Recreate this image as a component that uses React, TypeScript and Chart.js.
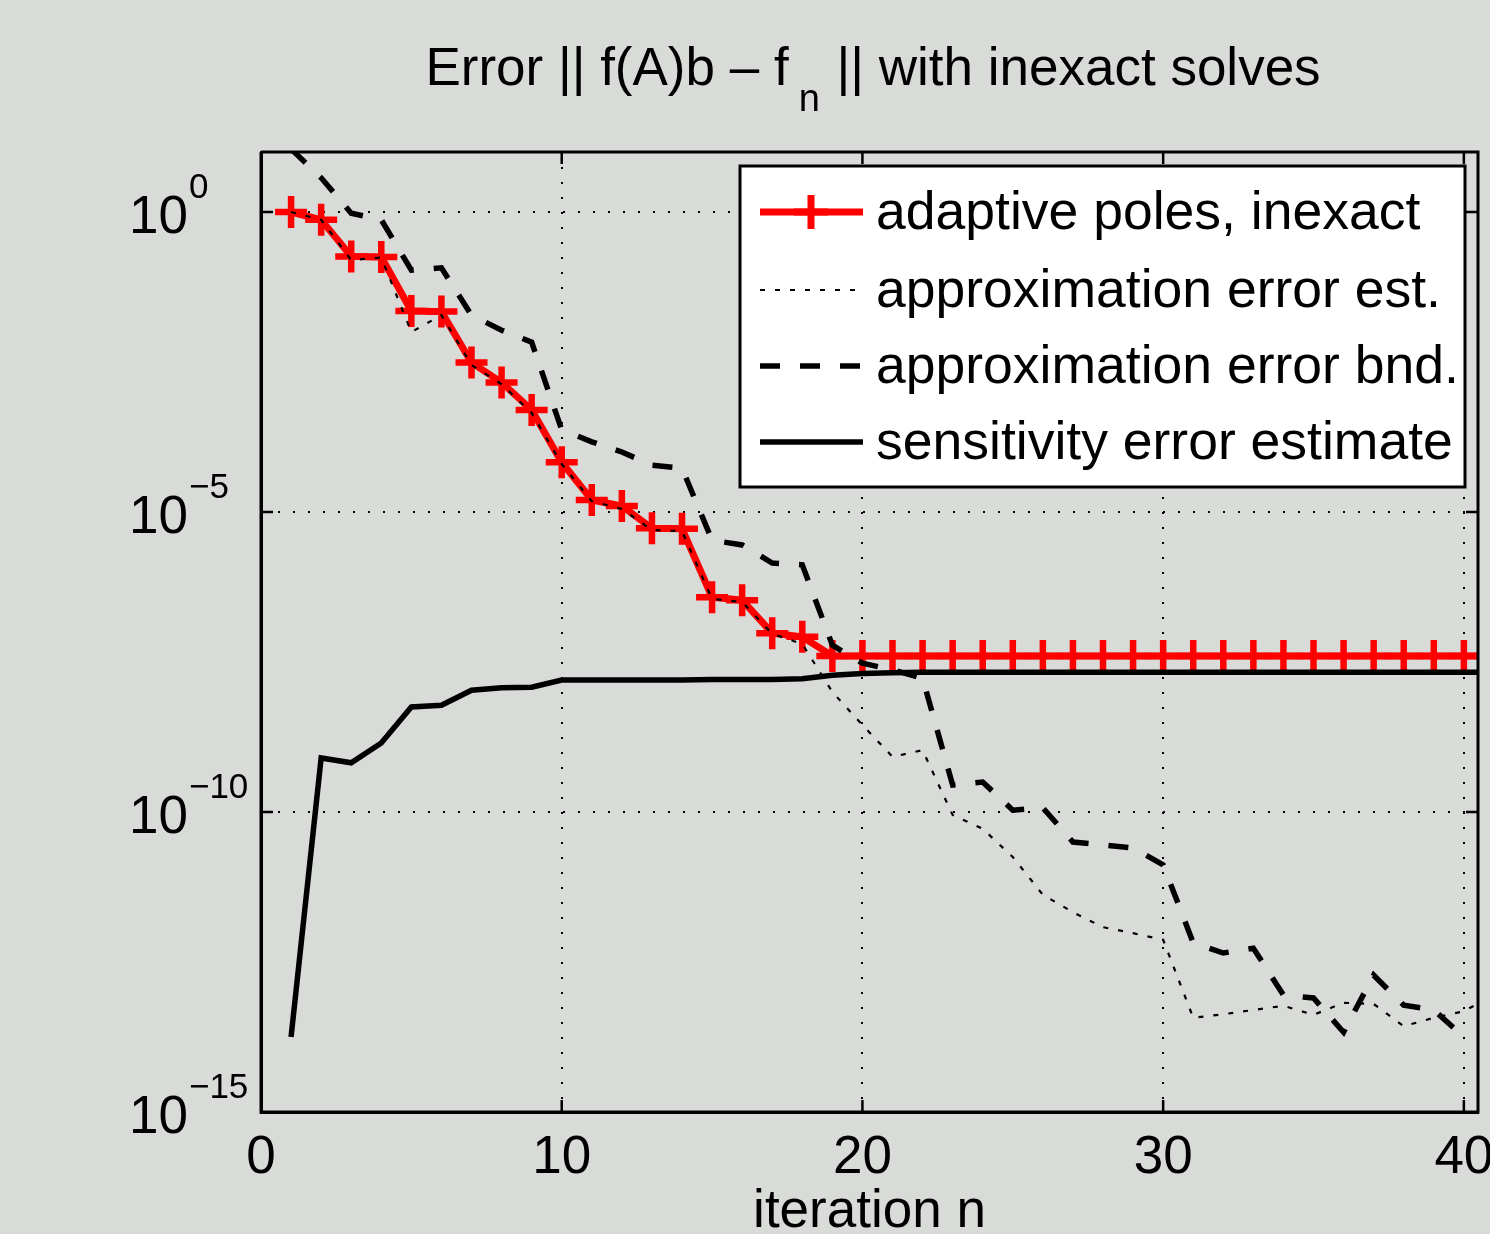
import React, { useEffect, useRef } from 'react';
import { Chart, registerables } from 'chart.js';

Chart.register(...registerables);

// ---------- data (values are log10 exponents) ----------
const iterations = [
  1, 2, 3, 4, 5, 6, 7, 8, 9, 10, 11, 12, 13, 14, 15, 16, 17, 18, 19, 20,
  21, 22, 23, 24, 25, 26, 27, 28, 29, 30, 31, 32, 33, 34, 35, 36, 37, 38, 39, 40, 41,
];

const adaptivePolesExp = [
  0, -0.13, -0.74, -0.75, -1.65, -1.66, -2.51, -2.84, -3.3, -4.17,
  -4.8, -4.9, -5.27, -5.28, -6.42, -6.47, -7.02, -7.08, -7.4, -7.4,
  -7.4, -7.4, -7.4, -7.4, -7.4, -7.4, -7.4, -7.4, -7.4, -7.4,
  -7.4, -7.4, -7.4, -7.4, -7.4, -7.4, -7.4, -7.4, -7.4, -7.4, -7.4,
];

const approxErrEstExp = [
  0, -0.13, -0.8, -0.76, -2.0, -1.72, -2.55, -2.87, -3.35, -4.2,
  -4.82, -4.95, -5.3, -5.32, -6.45, -6.5, -7.03, -7.2, -8.0, -8.55,
  -9.08, -8.97, -10.05, -10.28, -10.75, -11.38, -11.67, -11.92, -12.02, -12.13,
  -13.43, -13.37, -13.3, -13.23, -13.38, -13.18, -13.2, -13.57, -13.43, -13.32, -13.05,
];

const approxErrBndExp = [
  1.05, 0.57, -0.02, -0.13, -0.97, -0.93, -1.72, -1.97, -2.17, -3.63,
  -3.83, -4.0, -4.22, -4.27, -5.47, -5.55, -5.85, -5.88, -7.22, -7.52,
  -7.63, -7.77, -9.55, -9.5, -9.97, -9.93, -10.5, -10.55, -10.6, -10.88,
  -12.18, -12.35, -12.27, -13.05, -13.1, -13.67, -12.72, -13.22, -13.3, -13.75,
];

const sensitivityExp = [
  -13.75, -9.1, -9.18, -8.85, -8.25, -8.22, -7.97, -7.93, -7.92, -7.8,
  -7.8, -7.8, -7.8, -7.8, -7.79, -7.79, -7.79, -7.78, -7.72, -7.69,
  -7.68, -7.67, -7.67, -7.67, -7.67, -7.67, -7.67, -7.67, -7.67, -7.67,
  -7.67, -7.67, -7.67, -7.67, -7.67, -7.67, -7.67, -7.67, -7.67, -7.67, -7.67,
];

const seriesLabels = [
  'adaptive poles, inexact',
  'approximation error est.',
  'approximation error bnd.',
  'sensitivity error estimate',
];

const xTickValues = [0, 10, 20, 30, 40];
const xTickLabels = ['0', '10', '20', '30', '40'];
const yTickValues = [1e-15, 1e-10, 1e-5, 1, 10];
const yTickLabelValues = [1, 1e-5, 1e-10, 1e-15];
const yTickExponents = ['0', '\u22125', '\u221210', '\u221215'];

const titleMain = 'Error || f(A)b \u2013 f';
const titleSub = 'n';
const titleRest = ' || with inexact solves';
const xAxisTitle = 'iteration n';

// ---------- styling ----------
const BG = '#d9dbd8';
const FONT = '"Liberation Sans", Arial, Helvetica, sans-serif';
const RED = '#ff0000';
const DOT_DASH = [5, 10];
const DASH_DASH = [20, 20];

const toPoints = (exps: number[]) =>
  exps.map((e, i) => ({ x: iterations[i], y: Math.pow(10, e) }));

const decorPlugin = {
  id: 'matlabDecor',
  beforeDraw(chart: any) {
    const ctx = chart.ctx;
    ctx.save();
    ctx.fillStyle = BG;
    ctx.fillRect(0, 0, chart.width, chart.height);
    ctx.restore();
  },
  afterDatasetsDraw(chart: any) {
    const ctx = chart.ctx;
    const { left, right, top, bottom } = chart.chartArea;
    const xs = chart.scales.x;
    const ys = chart.scales.y;
    ctx.save();
    ctx.strokeStyle = '#000';
    ctx.lineWidth = 3;
    ctx.beginPath();
    ctx.moveTo(left, top);
    ctx.lineTo(right, top);
    ctx.lineTo(right, bottom);
    ctx.lineTo(left, bottom);
    ctx.lineTo(left, top);
    ctx.stroke();
    ctx.lineWidth = 2.5;
    const tl = 12;
    ctx.beginPath();
    [1, 1e-5, 1e-10].forEach((v) => {
      const y = ys.getPixelForValue(v);
      ctx.moveTo(left, y);
      ctx.lineTo(left + tl, y);
      ctx.moveTo(right, y);
      ctx.lineTo(right - tl, y);
    });
    [10, 20, 30, 40].forEach((v) => {
      const x = xs.getPixelForValue(v);
      ctx.moveTo(x, bottom);
      ctx.lineTo(x, bottom - tl);
      ctx.moveTo(x, top);
      ctx.lineTo(x, top + tl);
    });
    ctx.stroke();
    ctx.restore();
  },
  afterDraw(chart: any) {
    const ctx = chart.ctx;
    const { left, right, bottom } = chart.chartArea;
    const xs = chart.scales.x;
    const ys = chart.scales.y;
    ctx.save();
    ctx.fillStyle = '#000';
    ctx.textBaseline = 'alphabetic';

    // y tick labels 10^k
    yTickLabelValues.forEach((v, i) => {
      const y = ys.getPixelForValue(v);
      ctx.font = `53px ${FONT}`;
      ctx.textAlign = 'left';
      ctx.fillText('10', 129, y + 21);
      const w = ctx.measureText('10').width;
      ctx.font = `35px ${FONT}`;
      ctx.fillText(yTickExponents[i], 129 + w + 1, y - 14);
    });

    // x tick labels
    ctx.font = `53px ${FONT}`;
    ctx.textAlign = 'center';
    xTickValues.forEach((v, i) => {
      ctx.fillText(xTickLabels[i], xs.getPixelForValue(v), bottom + 61);
    });

    // x axis title
    ctx.fillText(xAxisTitle, (left + right) / 2, bottom + 115);

    // title with subscript
    ctx.textAlign = 'left';
    ctx.font = `53px ${FONT}`;
    const w1 = ctx.measureText(titleMain).width;
    const w3 = ctx.measureText(titleRest).width;
    ctx.font = `38px ${FONT}`;
    const w2 = ctx.measureText(titleSub).width;
    const gapA = 10;
    const gapB = 2;
    const total = w1 + gapA + w2 + gapB + w3;
    const tx = 873 - total / 2;
    ctx.font = `53px ${FONT}`;
    ctx.fillText(titleMain, tx, 85);
    ctx.font = `38px ${FONT}`;
    ctx.fillText(titleSub, tx + w1 + gapA, 111);
    ctx.font = `53px ${FONT}`;
    ctx.fillText(titleRest, tx + w1 + gapA + w2 + gapB, 85);

    // legend
    const lx = 740, ly = 166, lw = 725, lh = 321;
    ctx.fillStyle = '#fff';
    ctx.fillRect(lx, ly, lw, lh);
    ctx.strokeStyle = '#000';
    ctx.lineWidth = 3;
    ctx.strokeRect(lx, ly, lw, lh);
    const rows = [212, 290, 366, 442];
    const styles = [
      { color: RED, width: 7, dash: [] as number[], marker: true },
      { color: '#000', width: 2.2, dash: DOT_DASH, marker: false },
      { color: '#000', width: 5.5, dash: DASH_DASH, marker: false },
      { color: '#000', width: 5.5, dash: [] as number[], marker: false },
    ];
    rows.forEach((ry, i) => {
      const s = styles[i];
      ctx.save();
      ctx.strokeStyle = s.color;
      ctx.lineWidth = s.width;
      ctx.setLineDash(s.dash);
      ctx.beginPath();
      ctx.moveTo(760, ry);
      ctx.lineTo(863, ry);
      ctx.stroke();
      ctx.setLineDash([]);
      if (s.marker) {
        ctx.lineWidth = 7;
        ctx.beginPath();
        ctx.moveTo(811, ry - 17);
        ctx.lineTo(811, ry + 17);
        ctx.moveTo(794, ry);
        ctx.lineTo(828, ry);
        ctx.stroke();
      }
      ctx.restore();
      ctx.fillStyle = '#000';
      ctx.font = `53.5px ${FONT}`;
      ctx.textAlign = 'left';
      ctx.fillText(seriesLabels[i], 876, ry + 17);
    });
    ctx.restore();
  },
};

export default function App() {
  const canvasRef = useRef<HTMLCanvasElement | null>(null);

  useEffect(() => {
    const canvas = canvasRef.current;
    if (!canvas) return;
    const chart = new Chart(canvas, {
      type: 'line',
      data: {
        datasets: [
          {
            label: seriesLabels[0],
            data: toPoints(adaptivePolesExp),
            borderColor: RED,
            backgroundColor: RED,
            borderWidth: 7,
            pointStyle: 'cross',
            pointRadius: 16,
            pointBorderWidth: 6.5,
            pointBorderColor: RED,
            tension: 0,
            order: 4,
          },
          {
            label: seriesLabels[1],
            data: toPoints(approxErrEstExp),
            borderColor: '#000',
            borderWidth: 2.2,
            borderDash: DOT_DASH,
            pointRadius: 0,
            tension: 0,
            order: 3,
          },
          {
            label: seriesLabels[2],
            data: toPoints(approxErrBndExp),
            borderColor: '#000',
            borderWidth: 5.5,
            borderDash: DASH_DASH,
            pointRadius: 0,
            tension: 0,
            order: 2,
          },
          {
            label: seriesLabels[3],
            data: toPoints(sensitivityExp),
            borderColor: '#000',
            borderWidth: 5.5,
            pointRadius: 0,
            tension: 0,
            order: 1,
          },
        ],
      },
      options: {
        animation: false,
        responsive: false,
        devicePixelRatio: 1,
        events: [],
        layout: { autoPadding: false, padding: { left: 261, right: 12, top: 152, bottom: 122 } },
        plugins: {
          legend: { display: false },
          title: { display: false },
          tooltip: { enabled: false },
        },
        scales: {
          x: {
            type: 'linear',
            min: 0,
            max: 40.47,
            afterBuildTicks: (s: any) => {
              s.ticks = xTickValues.map((value) => ({ value }));
            },
            ticks: { display: false },
            grid: { color: '#000', lineWidth: 2, drawTicks: false },
            border: { display: true, color: '#000', width: 3, dash: [2, 13] },
          },
          y: {
            type: 'logarithmic',
            min: 1e-15,
            max: 10,
            afterBuildTicks: (s: any) => {
              s.ticks = yTickValues.map((value) => ({ value }));
            },
            ticks: { display: false },
            grid: { color: '#000', lineWidth: 2, drawTicks: false },
            border: { display: true, color: '#000', width: 3, dash: [2, 13] },
          },
        },
      },
      plugins: [decorPlugin],
    } as any);
    return () => chart.destroy();
  }, []);

  return (
    <div style={{ position: 'absolute', left: 0, top: 0, width: 1490, height: 1234, background: BG }}>
      <canvas ref={canvasRef} width={1490} height={1234} style={{ display: 'block', width: 1490, height: 1234 }} />
    </div>
  );
}
